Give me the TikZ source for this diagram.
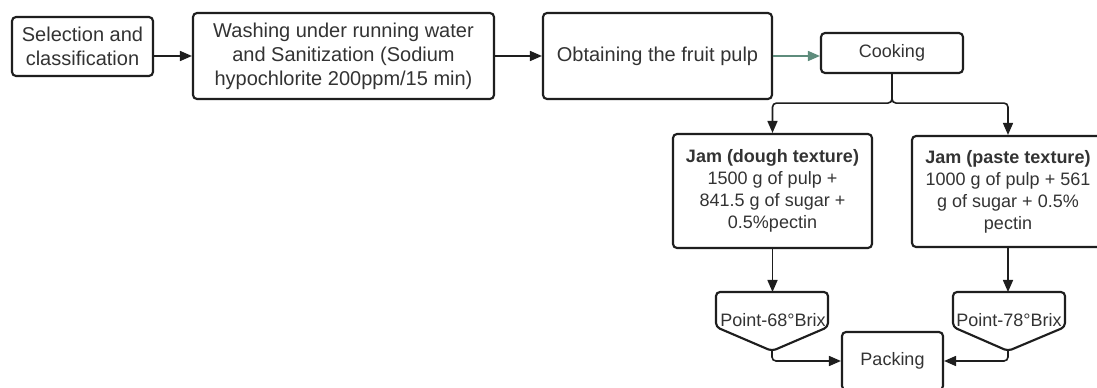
\documentclass[tikz,border=0pt]{standalone}
\usepackage{fontspec}
\setmainfont{Liberation Sans}
\usetikzlibrary{arrows.meta}
\definecolor{txt}{HTML}{333333}
\definecolor{edge}{HTML}{1E1E1E}
\definecolor{grn}{HTML}{5E8C7C}
\begin{document}
\begin{tikzpicture}[x=0.75pt,y=-0.75pt,
  box/.style={draw=edge, line width=1.6pt, rounded corners=3pt, fill=white, align=center, text=txt, inner sep=0pt},
  big/.style={font=\fontsize{15}{18}\selectfont},
  small/.style={font=\fontsize{13.5}{16.5}\selectfont},
  ptshape/.style={draw=edge, line width=1.6pt, rounded corners=3pt, fill=white},
  conn/.style={draw=edge, line width=1.2pt, -{Triangle[length=9pt,width=7.5pt]}, rounded corners=3pt}]
\useasboundingbox (0,0) rectangle (1097,388);
\fill[white] (0,0) rectangle (1097,388);

\node[box, big, minimum width=105.75pt, minimum height=44.25pt] (sel) at (82.5,46.5) {Selection and\\classification};
\node[box, big, minimum width=225.75pt, minimum height=64.5pt] (wash) at (343.5,56) {Washing under running water\\and Sanitization (Sodium\\hypochlorite 200ppm/15 min)};
\node[box, big, minimum width=171.75pt, minimum height=64.5pt] (obt) at (657.5,56) {Obtaining the fruit pulp};
\node[box, small, minimum width=106.5pt, minimum height=30pt] (cook) at (892,53) {Cooking};
\node[box, small, minimum width=149.25pt, minimum height=85.5pt] (jam1) at (772.5,191) {\textbf{Jam (dough texture)}\\1500 g of pulp +\\841.5 g of sugar +\\0.5\%pectin};
\node[box, small, minimum width=144pt, minimum height=83.25pt] (jam2) at (1008,191.5) {\textbf{Jam (paste texture)}\\1000 g of pulp + 561\\g of sugar + 0.5\%\\pectin};
\node[box, small, minimum width=75.75pt, minimum height=43.5pt] (pack) at (892.5,361) {Packing};

% Point shapes
\draw[ptshape] (716,327) -- (716,292) -- (828,292) -- (828,327) -- (772,351) -- cycle;
\coordinate (p1n) at (772,292);
\coordinate (p1s) at (772,351);
\node[text=txt, small, inner sep=0pt] (pt1) at (773,320) {Point-68°Brix};
\draw[ptshape] (953,327) -- (953,292) -- (1065,292) -- (1065,327) -- (1008,351) -- cycle;
\coordinate (p2n) at (1008,292);
\coordinate (p2s) at (1008,351);
\node[text=txt, small, inner sep=0pt] (pt2) at (1009,320) {Point-78°Brix};

% connectors
\draw[conn] (sel.east |- wash.west) -- (wash.west);
\draw[conn] (wash.east) -- (obt.west);
\draw[conn, draw=grn] (obt.east) -- (obt.east -| cook.west);
\draw[conn] (cook.south) -- ++(0,29) -| (jam1.north);
\draw[conn] (cook.south) -- ++(0,29) -| (jam2.north);
\draw[conn] (jam1.south) -- (jam1.south |- p1n);
\draw[conn] (jam2.south) -- (p2n);
\draw[conn] (p1s) |- (pack.west);
\draw[conn] (p2s) |- (pack.east);
\end{tikzpicture}
\end{document}
